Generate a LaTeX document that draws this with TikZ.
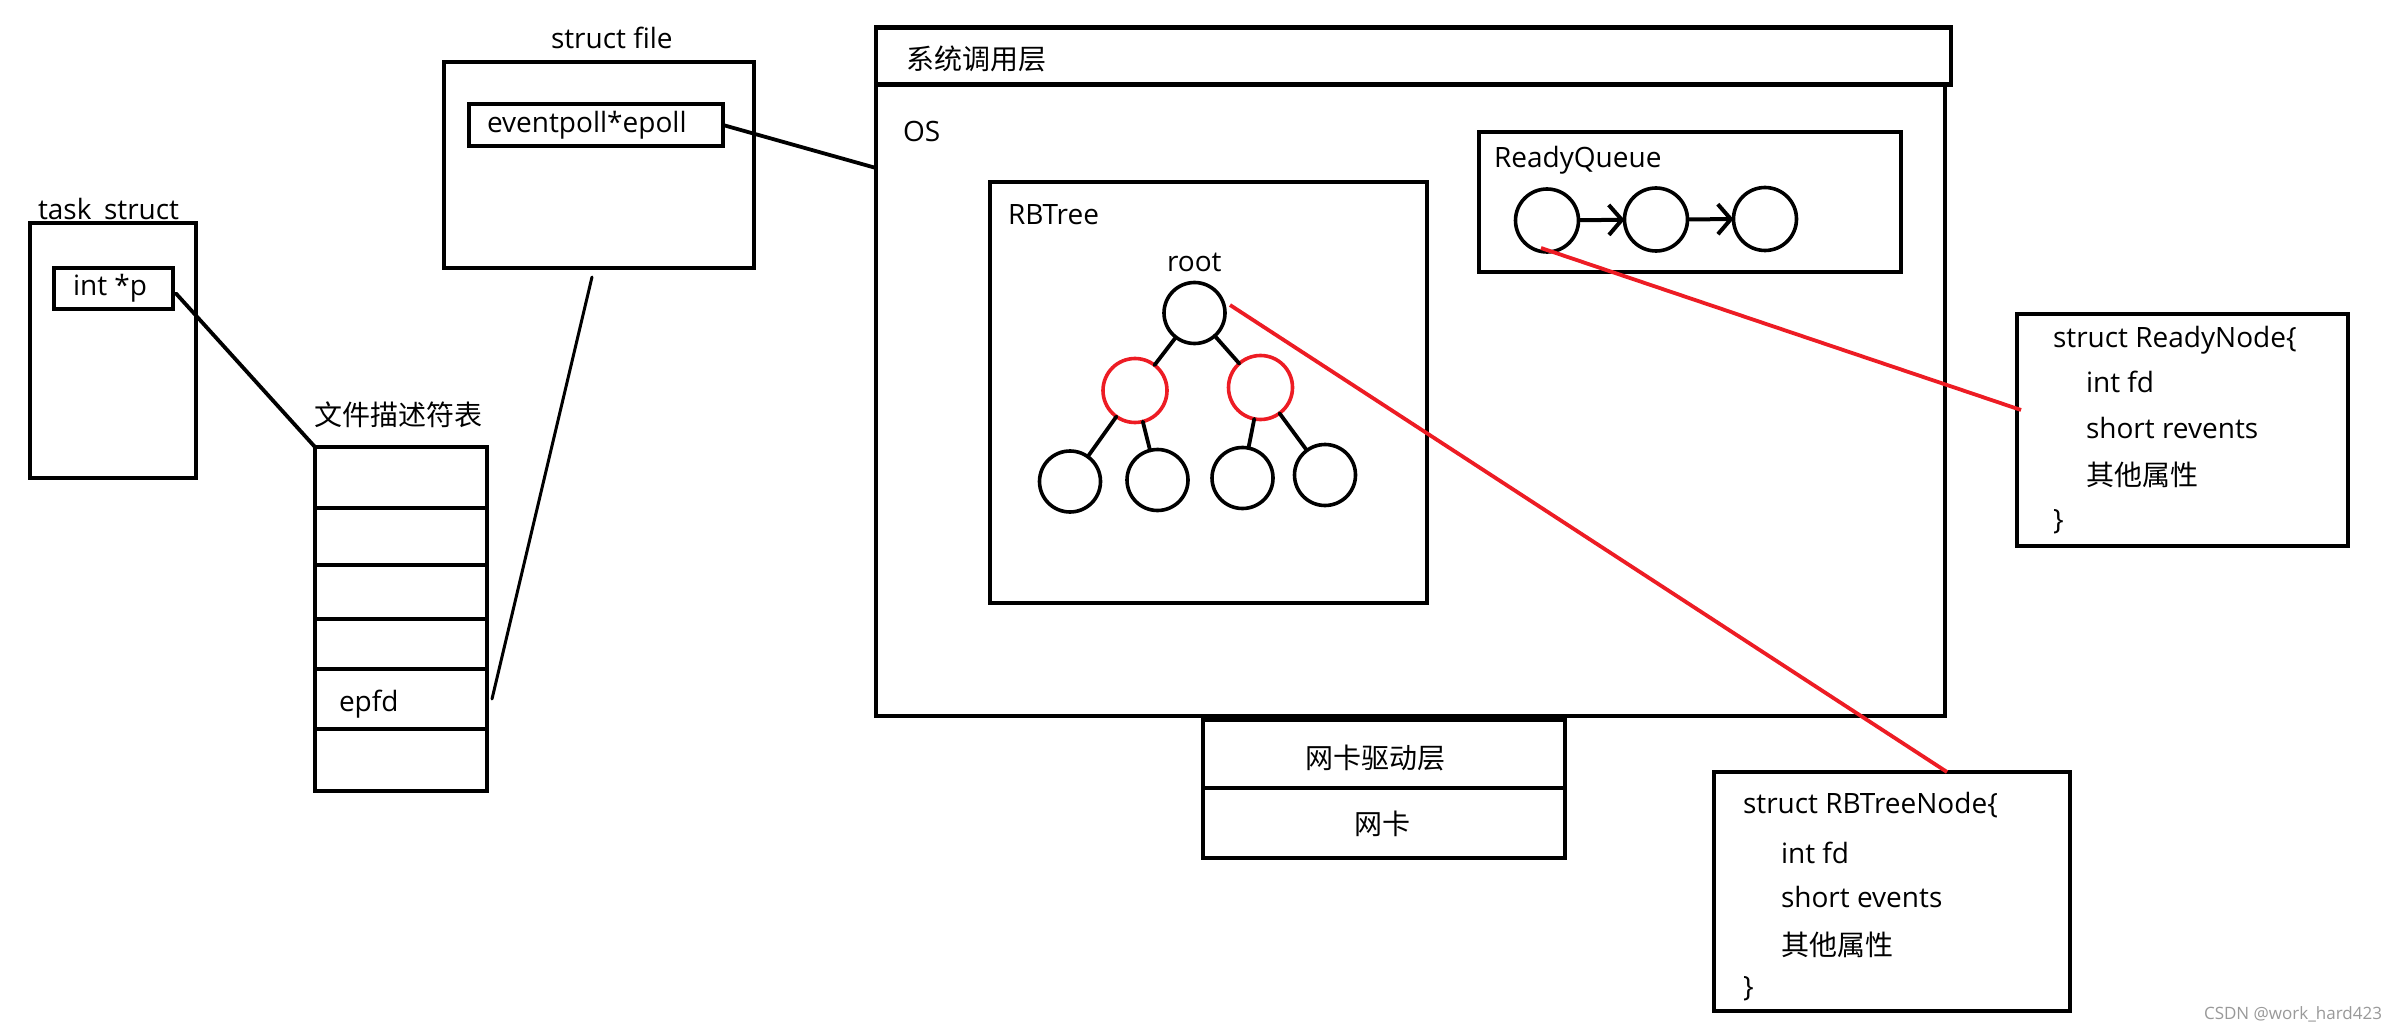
\documentclass[tikz,border=0pt]{standalone}
\usepackage{fontspec}
\setmainfont{Open Sans}
\newfontfamily\cjk{Noto Sans CJK SC}
\usetikzlibrary{arrows.meta}
\definecolor{pred}{HTML}{ED1C24}
\begin{document}
\begin{tikzpicture}[x=1pt,y=-1pt,
  every node/.style={font=\fontsize{28}{34}\selectfont, inner sep=0pt, outer sep=0pt},
  box/.style={draw, line width=4.8pt, rectangle, inner sep=0pt},
  lbl/.style={anchor=base west},
  blk/.style={draw, line width=3.6pt, circle, minimum size=61pt},
  rbn/.style={draw=pred, line width=3.6pt, circle, minimum size=64pt},
  qn/.style={draw, line width=3.6pt, circle, minimum size=63pt},
  conn/.style={line width=3.8pt, line cap=round},
  redline/.style={draw=pred, line width=3.8pt},
  qarrow/.style={line width=4pt, -{Straight Barb[length=13pt,width=30pt]}},
]
\fill[white] (0,0) rectangle (2396,1032);
\useasboundingbox (0,0) rectangle (2396,1032);

% ---------- labels ----------
\node[lbl] (tsfile) at (551,49) {struct file};
\node[lbl] (ttask) at (38,220) {task\_struct};
\node[lbl] (tintp) at (73,296) {int *p};
\node[lbl] (tep) at (487,133) {eventpoll*epoll};
\node (tfd) at (398,415) {\cjk 文件描述符表};
\node[lbl] (tepfd) at (339,711) {epfd};
\node[anchor=west] (tsys) at (906,59) {\cjk 系统调用层};
\node[lbl] (tos) at (903,142) {OS};
\node[lbl] (trb) at (1008,225) {RBTree};
\node[lbl] (troot) at (1167,272) {root};
\node[lbl] (trq) at (1494,168) {ReadyQueue};

\node[lbl] (ra) at (2053,347) {struct ReadyNode\{};
\node[lbl] (rb) at (2086,392) {int fd};
\node[lbl] (rc) at (2086,438) {short revents};
\node[anchor=west] (rd) at (2086,475) {\cjk 其他属性};
\node[lbl] (re) at (2053,529) {\}};

\node[lbl] (ba) at (1743,813) {struct RBTreeNode\{};
\node[lbl] (bb) at (1781,863) {int fd};
\node[lbl] (bc) at (1781,907) {short events};
\node[anchor=west] (bd) at (1781,945) {\cjk 其他属性};
\node[lbl] (be) at (1743,996) {\}};

\node (tnicd) at (1375,758) {\cjk 网卡驱动层};
\node (tnic) at (1382,824) {\cjk 网卡};

\node[anchor=east, text=black!40, font=\fontsize{17}{20}\selectfont] (wm) at (2382,1014) {CSDN @work\_hard423};

% ---------- boxes ----------
\node[box, minimum width=310pt, minimum height=206pt] (sfile) at (599,165) {};
\node[box, minimum width=254pt, minimum height=42pt] (ep) at (596,125) {};
\node[box, minimum width=166pt, minimum height=255pt] (task) at (113,350.5) {};
\node[box, minimum width=119pt, minimum height=41pt] (intp) at (113.5,288.5) {};

\node[box, minimum width=172pt, minimum height=61pt] (r1) at (401,477.5) {};
\node[box, minimum width=172pt, minimum height=57pt] (r2) at (401,536.5) {};
\node[box, minimum width=172pt, minimum height=54pt] (r3) at (401,592) {};
\node[box, minimum width=172pt, minimum height=50pt] (r4) at (401,644) {};
\node[box, minimum width=172pt, minimum height=60pt] (r5) at (401,699) {};
\node[box, minimum width=172pt, minimum height=62pt] (r6) at (401,760) {};

\node[box, minimum width=1075pt, minimum height=57pt] (sys) at (1413.5,56.3) {};
\node[box, minimum width=1069pt, minimum height=631pt] (os) at (1410.5,400.5) {};
\node[box, minimum width=437pt, minimum height=421pt] (rbtree) at (1208.5,392.5) {};
\node[box, minimum width=422pt, minimum height=140pt] (rq) at (1690,202) {};
\node[box, minimum width=331pt, minimum height=232pt] (readynode) at (2182.5,430) {};
\node[box, minimum width=356pt, minimum height=239pt] (rbnode) at (1892,891.5) {};
\node[box, minimum width=362pt, minimum height=68pt] (nicd) at (1384,754) {};
\node[box, minimum width=362pt, minimum height=70pt] (nic) at (1384,823) {};

% ---------- tree ----------
\node[blk] (root) at (1194.5,313) {};
\node[rbn] (L) at (1135,390.5) {};
\node[rbn] (R) at (1260.5,387.5) {};
\node[blk] (b1) at (1070,481.5) {};
\node[blk] (b2) at (1157.5,480) {};
\node[blk] (b3) at (1242.5,478) {};
\node[blk] (b4) at (1325,475) {};
\draw[conn] (root) -- (L);
\draw[conn] (root) -- (R);
\draw[conn] (L) -- (b1);
\draw[conn] (L) -- (b2);
\draw[conn] (R) -- (b3);
\draw[conn] (R) -- (b4);

% ---------- ready queue ----------
\node[qn] (q1) at (1547,220.5) {};
\node[qn] (q2) at (1656,219.5) {};
\node[qn] (q3) at (1765,219) {};
\draw[qarrow] (q1) -- (q2);
\draw[qarrow] (q2) -- (q3);

% ---------- connectors ----------
\draw[conn] ([shift={(3,5)}]intp.east) -- (r1.north west);
\draw[conn] (ep.east) -- ([yshift=-83pt]os.north west);
\draw[conn, line width=3pt] ([shift={(-7,9)}]sfile.south) -- ([xshift=5pt]r5.east);

\draw[redline] ([shift={(5,-8)}]root.east) -- ([xshift=233pt]rbnode.north west);
\draw[redline] ([shift={(-6,-4)}]q1.south) -- ([shift={(4,96)}]readynode.north west);
\end{tikzpicture}
\end{document}
